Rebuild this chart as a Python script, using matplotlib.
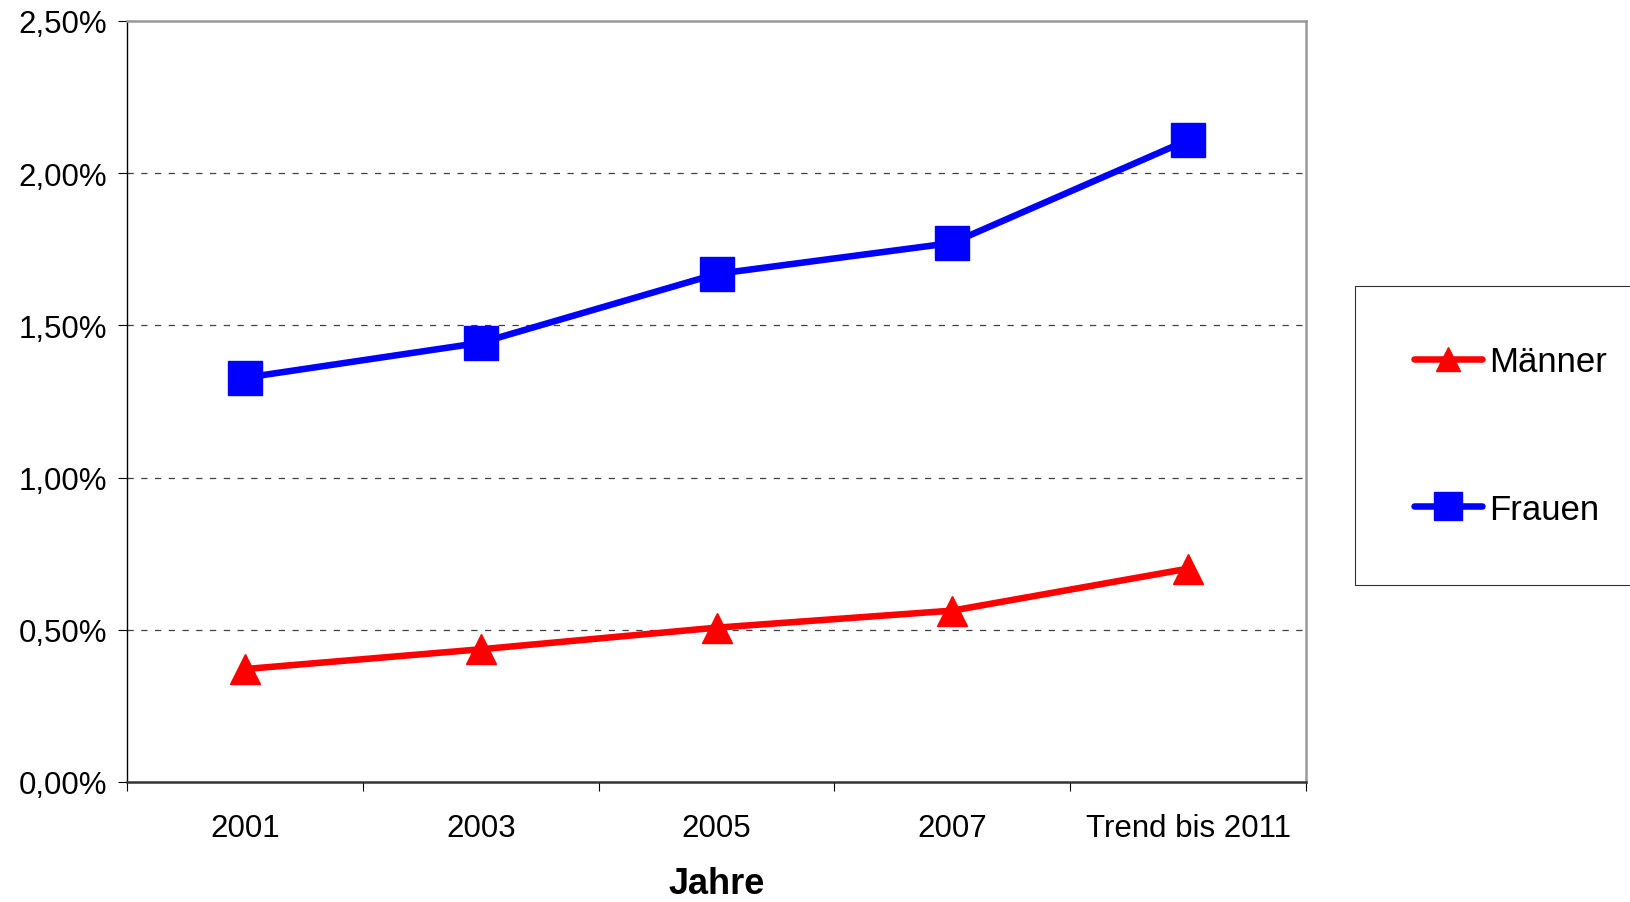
import matplotlib
matplotlib.use("Agg")
import matplotlib.pyplot as plt
from matplotlib.ticker import FuncFormatter, FixedLocator

kategorien = ["2001", "2003", "2005", "2007", "Trend bis 2011"]
maenner = [0.371, 0.436, 0.507, 0.563, 0.701]
frauen = [1.328, 1.443, 1.669, 1.771, 2.109]
y_ticks = [0.0, 0.5, 1.0, 1.5, 2.0, 2.5]


def prozent(v, pos):
    return f"{v:.2f}".replace(".", ",") + "%"


def main():
    plt.rcParams["font.family"] = ["Liberation Sans", "DejaVu Sans"]

    fig = plt.figure(figsize=(16.3, 9.03), dpi=100)
    ax = fig.add_axes([127 / 1630, 1 - 783 / 903, (1306 - 127) / 1630, (783 - 22) / 903])

    x = list(range(len(kategorien)))
    ax.plot(x, maenner, color="#ff0000", lw=4.7, marker="^", markersize=21,
            label="Männer", zorder=3, solid_capstyle="round")
    ax.plot(x, frauen, color="#0000ff", lw=4.7, marker="s", markersize=24,
            label="Frauen", zorder=3, solid_capstyle="round")

    ax.set_xlim(-0.5, len(kategorien) - 0.5)
    ax.set_ylim(0, 2.5)
    ax.set_yticks(y_ticks)
    ax.yaxis.set_major_formatter(FuncFormatter(prozent))

    ax.set_xticks(x)
    ax.set_xticklabels(kategorien)
    ax.xaxis.set_minor_locator(FixedLocator([i - 0.5 for i in range(len(kategorien) + 1)]))
    ax.tick_params(axis="x", which="major", length=0, pad=22, labelsize=22.5)
    ax.tick_params(axis="x", which="minor", length=6.5, width=0.8, direction="out")
    ax.tick_params(axis="y", length=6.5, width=0.8, direction="out", pad=8, labelsize=22.5)

    # Gitterlinien gestrichelt
    for v in y_ticks[1:-1]:
        ax.axhline(v, color="#404040", lw=0.9, ls=(0, (5, 6)), zorder=1)

    ax.spines["left"].set_color("black")
    ax.spines["left"].set_linewidth(1.0)
    ax.spines["bottom"].set_color("#333333")
    ax.spines["bottom"].set_linewidth(1.8)
    ax.spines["top"].set_color("#999999")
    ax.spines["top"].set_linewidth(1.8)
    ax.spines["right"].set_color("#999999")
    ax.spines["right"].set_linewidth(1.8)

    ax.set_xlabel("Jahre", fontsize=26, fontweight="bold", labelpad=17)

    leg = fig.legend(loc="upper left", bbox_to_anchor=(1355 / 1630, 1 - 287 / 903),
                     fontsize=25, frameon=True, fancybox=False, edgecolor="black",
                     borderpad=1.7, labelspacing=3.3, handlelength=1.95,
                     handletextpad=0.2, markerscale=0.85, borderaxespad=0)
    leg.get_frame().set_linewidth(0.8)

    fig.savefig("out.png", dpi=100)


if __name__ == "__main__":
    main()
